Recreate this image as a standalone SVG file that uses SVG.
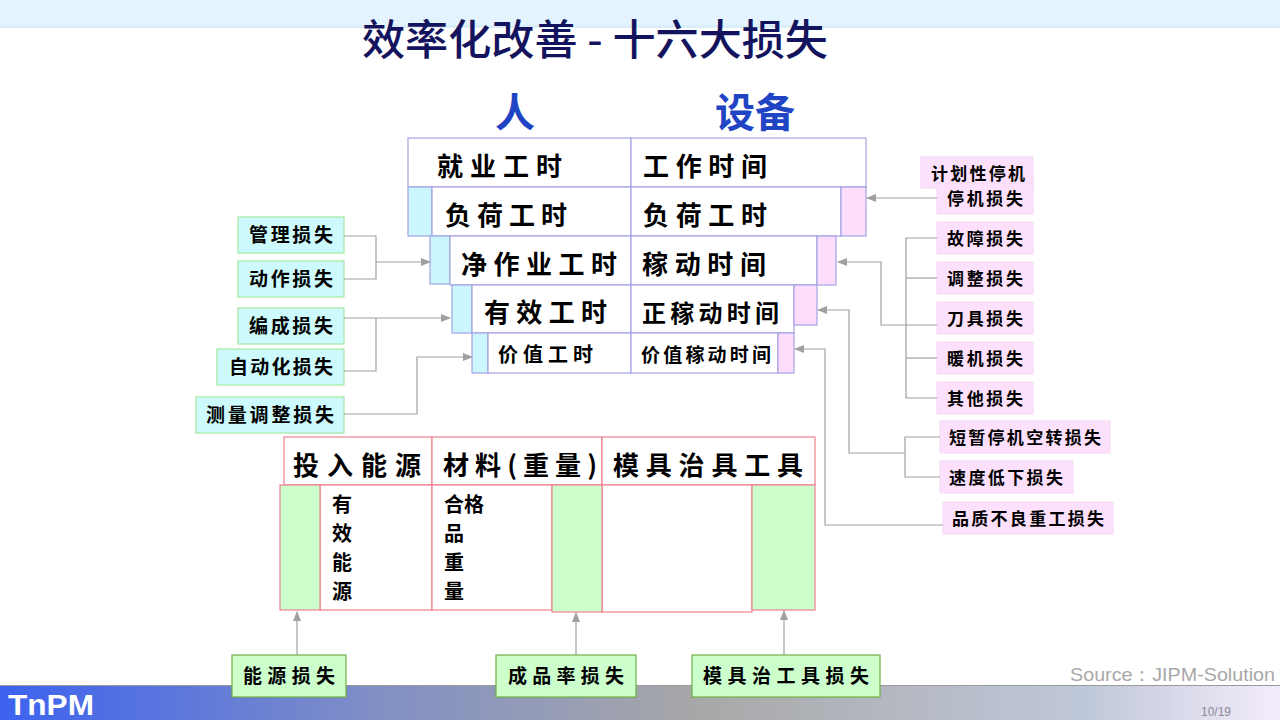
<svg xmlns="http://www.w3.org/2000/svg" width="1280" height="720" viewBox="0 0 1280 720">
<defs>
<linearGradient id="bar" x1="0" y1="0" x2="1" y2="0">
<stop offset="0" stop-color="#3C62F0"/>
<stop offset="0.3" stop-color="#8290C4"/>
<stop offset="0.55" stop-color="#A8A8A8"/>
<stop offset="0.85" stop-color="#BFC8DA"/>
<stop offset="1" stop-color="#F4ECFA"/>
</linearGradient>
<marker id="arr" viewBox="0 0 10 10" refX="9" refY="5" markerWidth="10" markerHeight="10" markerUnits="userSpaceOnUse" orient="auto">
<path d="M0,1 L10,5 L0,9 Z" fill="#A0A0A0"/>
</marker>
<style>
.cjk{font-family:"Noto Sans CJK SC","Noto Sans",sans-serif;font-weight:700;fill:#000}
.tb{fill:#fff;stroke:#A4A4E4;stroke-width:1.2}
.cy{fill:#CBF6FE;stroke:#A4A4E4;stroke-width:1.2}
.pk{fill:#FCDDFC;stroke:#A4A4E4;stroke-width:1.2}
.lb{fill:#CDFAFC;stroke:#A6E8A0;stroke-width:1.2}
.rb{fill:#FCE0FC;stroke:#F4D8F4;stroke-width:1}
.bt{fill:#fff;stroke:#F08090;stroke-width:1.2}
.gr{fill:#CCFFCC;stroke:#F08090;stroke-width:1.2}
.gb{fill:#CCFFCC;stroke:#70B040;stroke-width:1.2}
.ln{fill:none;stroke:#A0A0A0;stroke-width:1.2}
.big{font-size:26px}
.s19{font-size:19px}
.s17{font-size:17px}
.s20{font-size:20px}
</style>
</defs>
<rect x="0" y="0" width="1280" height="720" fill="#fff"/>
<rect x="0" y="0" width="1280" height="27" fill="#E3F4FE"/>
<rect x="0" y="25" width="1280" height="3" fill="#D9EEF9"/>
<rect x="0" y="685" width="1280" height="35" fill="url(#bar)"/>
<line x1="0" y1="685.5" x2="1280" y2="685.5" stroke="#9A9A9A" stroke-width="1"/>
<text x="8" y="715" font-family="Liberation Sans,Arial,sans-serif" font-size="30" font-weight="700" fill="#fff" textLength="86" lengthAdjust="spacingAndGlyphs">TnPM</text>
<text x="1070" y="681" font-family="Liberation Sans,Arial,sans-serif" font-size="19" fill="#A8A8A8" textLength="205" lengthAdjust="spacingAndGlyphs">Source：JIPM-Solution</text>
<text x="1201" y="716" font-family="Liberation Sans,Arial,sans-serif" font-size="12" fill="#8A8AA0">10/19</text>

<text x="595" y="55" text-anchor="middle" font-family="Noto Sans CJK SC,sans-serif" font-size="42" font-weight="500" fill="#14145E" textLength="466" lengthAdjust="spacingAndGlyphs">效率化改善 - 十六大损失</text>
<text x="515" y="127" text-anchor="middle" font-family="Noto Sans CJK SC,sans-serif" font-size="40" font-weight="700" fill="#2044C4">人</text>
<text x="755" y="127" text-anchor="middle" font-family="Noto Sans CJK SC,sans-serif" font-size="40" font-weight="700" fill="#2044C4">设备</text>

<g id="time-table">
<rect class="tb" x="408" y="138" width="223" height="49"/>
<rect class="tb" x="631" y="138" width="235" height="49"/>
<rect class="cy" x="408" y="187" width="24" height="49"/>
<rect class="tb" x="432" y="187" width="199" height="49"/>
<rect class="tb" x="631" y="187" width="210" height="49"/>
<rect class="pk" x="841" y="187" width="25" height="49"/>
<rect class="cy" x="430" y="236" width="20" height="48"/>
<rect class="tb" x="450" y="236" width="181" height="49"/>
<rect class="tb" x="631" y="236" width="186" height="49"/>
<rect class="pk" x="817" y="236" width="19" height="49"/>
<rect class="cy" x="452" y="285" width="20" height="48"/>
<rect class="tb" x="472" y="285" width="159" height="48"/>
<rect class="tb" x="631" y="285" width="163" height="48"/>
<rect class="pk" x="794" y="285" width="23" height="40"/>
<rect class="cy" x="472" y="333" width="16" height="40"/>
<rect class="tb" x="488" y="333" width="143" height="40"/>
<rect class="tb" x="631" y="333" width="147" height="40"/>
<rect class="pk" x="778" y="333" width="16" height="40"/>
<text class="cjk big" x="437" y="176" textLength="125" lengthAdjust="spacing">就业工时</text>
<text class="cjk big" x="643" y="176" textLength="124" lengthAdjust="spacing">工作时间</text>
<text class="cjk big" x="445" y="225" textLength="122" lengthAdjust="spacing">负荷工时</text>
<text class="cjk big" x="643" y="225" textLength="124" lengthAdjust="spacing">负荷工时</text>
<text class="cjk big" x="461" y="274" textLength="156" lengthAdjust="spacing">净作业工时</text>
<text class="cjk big" x="642" y="274" textLength="124" lengthAdjust="spacing">稼动时间</text>
<text class="cjk big" x="484" y="322" textLength="123" lengthAdjust="spacing">有效工时</text>
<text class="cjk" x="642" y="322" font-size="24" textLength="137" lengthAdjust="spacing">正稼动时间</text>
<text class="cjk s20" x="498" y="362" textLength="95" lengthAdjust="spacing">价值工时</text>
<text class="cjk" x="641" y="362" font-size="19" textLength="130" lengthAdjust="spacing">价值稼动时间</text>
</g>

<g id="left-losses">
<rect class="lb" x="238" y="217" width="106" height="36"/>
<text class="cjk s19" x="291" y="242" text-anchor="middle" textLength="84" lengthAdjust="spacing">管理损失</text>
<rect class="lb" x="238" y="261" width="106" height="36"/>
<text class="cjk s19" x="291" y="286" text-anchor="middle" textLength="84" lengthAdjust="spacing">动作损失</text>
<rect class="lb" x="238" y="308" width="106" height="36"/>
<text class="cjk s19" x="291" y="333" text-anchor="middle" textLength="84" lengthAdjust="spacing">编成损失</text>
<rect class="lb" x="217" y="349" width="127" height="36"/>
<text class="cjk s19" x="281" y="374" text-anchor="middle" textLength="104" lengthAdjust="spacing">自动化损失</text>
<rect class="lb" x="196" y="397" width="148" height="36"/>
<text class="cjk s19" x="270" y="422" text-anchor="middle" textLength="128" lengthAdjust="spacing">测量调整损失</text>
</g>

<g id="right-losses">
<rect class="rb" x="921" y="157" width="112" height="31"/>
<text class="cjk s17" x="978" y="180" text-anchor="middle" textLength="94" lengthAdjust="spacing">计划性停机</text>
<rect class="rb" x="937" y="183" width="96" height="31"/>
<text class="cjk s17" x="985" y="205" text-anchor="middle" textLength="76" lengthAdjust="spacing">停机损失</text>
<rect class="rb" x="937" y="222" width="96" height="32"/>
<text class="cjk s17" x="985" y="245" text-anchor="middle" textLength="76" lengthAdjust="spacing">故障损失</text>
<rect class="rb" x="937" y="262" width="96" height="32"/>
<text class="cjk s17" x="985" y="285" text-anchor="middle" textLength="76" lengthAdjust="spacing">调整损失</text>
<rect class="rb" x="937" y="302" width="96" height="32"/>
<text class="cjk s17" x="985" y="325" text-anchor="middle" textLength="76" lengthAdjust="spacing">刀具损失</text>
<rect class="rb" x="937" y="342" width="96" height="32"/>
<text class="cjk s17" x="985" y="365" text-anchor="middle" textLength="76" lengthAdjust="spacing">暖机损失</text>
<rect class="rb" x="937" y="382" width="96" height="32"/>
<text class="cjk s17" x="985" y="405" text-anchor="middle" textLength="76" lengthAdjust="spacing">其他损失</text>
<rect class="rb" x="940" y="421" width="170" height="32"/>
<text class="cjk s17" x="1025" y="444" text-anchor="middle" textLength="152" lengthAdjust="spacing">短暂停机空转损失</text>
<rect class="rb" x="940" y="461" width="133" height="32"/>
<text class="cjk s17" x="1006" y="484" text-anchor="middle" textLength="114" lengthAdjust="spacing">速度低下损失</text>
<rect class="rb" x="943" y="502" width="170" height="32"/>
<text class="cjk s17" x="1028" y="525" text-anchor="middle" textLength="152" lengthAdjust="spacing">品质不良重工损失</text>
</g>

<g id="material-table">
<rect class="bt" x="284" y="437" width="148" height="48"/>
<rect class="bt" x="432" y="437" width="170" height="48"/>
<rect class="bt" x="602" y="437" width="213" height="48"/>
<text class="cjk big" x="293" y="475" textLength="128" lengthAdjust="spacing">投入能源</text>
<text class="cjk big" x="443" y="475" textLength="154" lengthAdjust="spacing">材料(重量)</text>
<text class="cjk big" x="613" y="475" textLength="190" lengthAdjust="spacing">模具治具工具</text>
<rect class="bt" x="320" y="485" width="112" height="125"/>
<rect class="bt" x="432" y="485" width="120" height="125"/>
<rect class="bt" x="602" y="485" width="150" height="127"/>
<rect class="gr" x="280" y="485" width="40" height="125"/>
<rect class="gr" x="552" y="485" width="50" height="127"/>
<rect class="gr" x="752" y="485" width="63" height="125"/>
<text class="cjk s20" x="332" y="512">有</text>
<text class="cjk s20" x="332" y="541">效</text>
<text class="cjk s20" x="332" y="570">能</text>
<text class="cjk s20" x="332" y="599">源</text>
<text class="cjk s20" x="444" y="512">合格</text>
<text class="cjk s20" x="444" y="541">品</text>
<text class="cjk s20" x="444" y="570">重</text>
<text class="cjk s20" x="444" y="599">量</text>
</g>

<g id="bottom-losses">
<rect class="gb" x="232" y="655" width="114" height="42"/>
<text class="cjk s19" x="289" y="683" text-anchor="middle" textLength="92" lengthAdjust="spacing">能源损失</text>
<rect class="gb" x="496" y="655" width="140" height="42"/>
<text class="cjk s19" x="566" y="683" text-anchor="middle" textLength="116" lengthAdjust="spacing">成品率损失</text>
<rect class="gb" x="692" y="655" width="188" height="42"/>
<text class="cjk s19" x="786" y="683" text-anchor="middle" textLength="166" lengthAdjust="spacing">模具治工具损失</text>
</g>

<g id="connectors">
<path class="ln" d="M344,236 H376 V279 H344"/>
<path class="ln" d="M376,262 H430" marker-end="url(#arr)"/>
<path class="ln" d="M344,371 H376 V318"/>
<path class="ln" d="M344,318 H450" marker-end="url(#arr)"/>
<path class="ln" d="M344,414 H417 V357 H472" marker-end="url(#arr)"/>
<path class="ln" d="M937,198 H867" marker-end="url(#arr)"/>
<path class="ln" d="M937,238 H906 V398 H937"/>
<path class="ln" d="M906,278 H937"/>
<path class="ln" d="M906,358 H937"/>
<path class="ln" d="M937,325 H881 V262 H838" marker-end="url(#arr)"/>
<path class="ln" d="M940,437 H905 V477 H940"/>
<path class="ln" d="M905,453 H849 V310 H818" marker-end="url(#arr)"/>
<path class="ln" d="M943,525 H825 V349 H795" marker-end="url(#arr)"/>
<path class="ln" d="M297,655 V612" marker-end="url(#arr)"/>
<path class="ln" d="M576,655 V613" marker-end="url(#arr)"/>
<path class="ln" d="M784,655 V611" marker-end="url(#arr)"/>
</g>
</svg>
